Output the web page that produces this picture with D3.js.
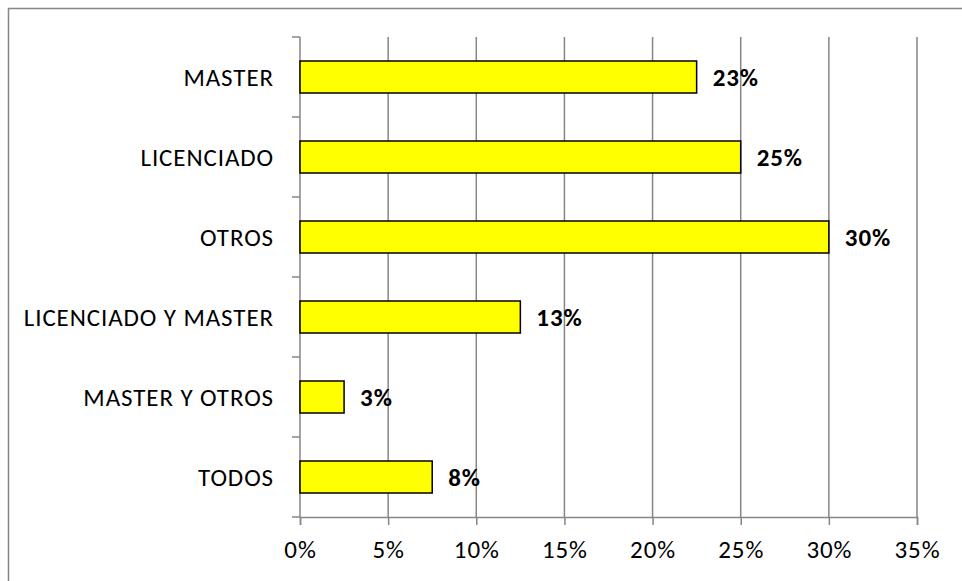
<!DOCTYPE html>
<html>
<head>
<meta charset="utf-8">
<script src="https://cdn.jsdelivr.net/npm/d3@7"></script>
<style>
  html, body { margin: 0; padding: 0; background: #fff; }
  svg { display: block; }
  text { font-family: Carlito, Calibri, Lato, "Open Sans", sans-serif; letter-spacing: 0.9px; }
</style>
</head>
<body>
<svg id="chart" width="962" height="581"></svg>
<script>
// Categories, top to bottom
const categories = ["MASTER", "LICENCIADO", "OTROS", "LICENCIADO Y MASTER", "MASTER Y OTROS", "TODOS"];
// Share of respondents, in percent
const values = [22.5, 25, 30, 12.5, 2.5, 7.5];
// X axis ticks, in percent
const xTicks = [0, 5, 10, 15, 20, 25, 30, 35];

const W = 962, H = 581;
const margin = { top: 37, right: 45, bottom: 64, left: 300 };
const svg = d3.select("#chart");

// chart frame (only top/left edges fall inside the view)
svg.append("rect")
  .attr("x", 8.5).attr("y", 8.5)
  .attr("width", W + 20).attr("height", H + 20)
  .attr("fill", "none").attr("stroke", "#878787").attr("stroke-width", 1.5);

const x = d3.scaleLinear().domain([0, 35]).range([margin.left, 917]);
const y = d3.scaleBand().domain(categories).range([margin.top, 517]).paddingInner(0.6).paddingOuter(0.3);
const yEdge = d3.scaleLinear().domain([0, categories.length]).range([margin.top, 517]);

const gridColor = "#868686";
const fontSize = "25px";

// vertical gridlines
svg.append("g").selectAll("line").data(xTicks.slice(1)).join("line")
  .attr("x1", d => x(d)).attr("x2", d => x(d))
  .attr("y1", margin.top).attr("y2", 517)
  .attr("stroke", gridColor).attr("stroke-width", 1.5);

// x axis
const xAxis = svg.append("g").attr("transform", "translate(0,517)")
  .call(d3.axisBottom(x).tickValues(xTicks).tickFormat(d => d + "%").tickSize(8).tickPadding(15));
xAxis.select(".domain").attr("stroke", gridColor).attr("stroke-width", 1.5);
xAxis.selectAll(".tick line").attr("stroke", gridColor).attr("stroke-width", 1.5);
xAxis.selectAll(".tick text").attr("fill", "#000").style("font-size", fontSize)
  .style("font-family", "Carlito, Calibri, Lato, sans-serif");

// y axis line with ticks between categories
svg.append("line")
  .attr("x1", x(0)).attr("x2", x(0)).attr("y1", margin.top).attr("y2", 517)
  .attr("stroke", gridColor).attr("stroke-width", 1.5);
svg.append("g").selectAll("line").data(d3.range(categories.length + 1)).join("line")
  .attr("x1", x(0) - 8).attr("x2", x(0))
  .attr("y1", d => yEdge(d)).attr("y2", d => yEdge(d))
  .attr("stroke", gridColor).attr("stroke-width", 1.5);

// category labels
svg.append("g").selectAll("text").data(categories).join("text")
  .attr("x", 274).attr("y", d => y(d) + y.bandwidth() / 2)
  .attr("text-anchor", "end").attr("dominant-baseline", "central")
  .style("font-size", fontSize).attr("fill", "#000")
  .text(d => d);

const rows = categories.map((c, i) => ({ c, v: values[i] }));

// bars
svg.append("g").selectAll("rect").data(rows).join("rect")
  .attr("x", x(0)).attr("y", d => y(d.c))
  .attr("width", d => x(d.v) - x(0)).attr("height", y.bandwidth())
  .attr("fill", "#FFFF00").attr("stroke", "#000").attr("stroke-width", 1.5);

// value labels
svg.append("g").selectAll("text").data(rows).join("text")
  .attr("x", d => x(d.v) + 16).attr("y", d => y(d.c) + y.bandwidth() / 2)
  .attr("dominant-baseline", "central")
  .style("font-size", fontSize).style("font-weight", "bold").attr("fill", "#000")
  .text(d => Math.round(d.v) + "%");
</script>
</body>
</html>
